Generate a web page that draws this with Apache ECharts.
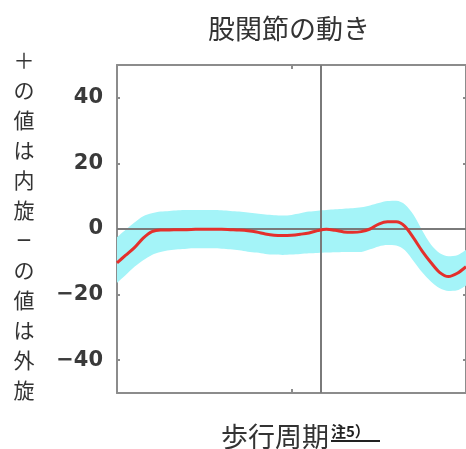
<!DOCTYPE html>
<html>
<head>
<meta charset="utf-8">
<script src="https://cdn.jsdelivr.net/npm/echarts@6/dist/echarts.min.js"></script>
<style>
  html, body { margin: 0; padding: 0; background: #fff; }
  #hip { width: 466px; height: 449px; }
</style>
</head>
<body>
<div id="hip"></div>
<script>
// gait cycle (%) and hip rotation angle (deg), read every 2.5 %
var cyclePct = [0, 2.5, 5, 7.5, 10, 12.5, 15, 17.5, 20, 22.5, 25, 27.5, 30, 32.5, 35, 37.5, 40, 42.5, 45, 47.5,
                50, 52.5, 55, 57.5, 60, 62.5, 65, 67.5, 70, 72.5, 75, 77.5, 80, 82.5, 85, 87.5, 90, 92.5, 95, 97.5, 100];
var meanDeg  = [-10.3, -8.0, -5.7, -2.8, -0.8, -0.3, -0.3, -0.2, -0.2, -0.1, -0.1, -0.1, -0.1, -0.2, -0.3, -0.5, -0.9, -1.5, -1.9, -2.0,
                -1.9, -1.6, -1.2, -0.5, -0.1, -0.4, -0.9, -1.0, -0.8, 0.0, 1.5, 2.2, 2.2, 0.8, -2.8, -6.8, -10.3, -13.3, -14.5, -13.5, -11.5];
var upperDeg = [-2.5, -0.2, 2.0, 3.9, 4.8, 5.3, 5.5, 5.7, 5.8, 5.8, 5.8, 5.8, 5.7, 5.5, 5.3, 5.0, 4.7, 4.4, 4.2, 4.1,
                4.3, 4.8, 5.3, 5.6, 5.8, 6.0, 6.2, 6.3, 6.6, 7.2, 7.9, 8.5, 8.6, 7.5, 4.3, -0.5, -4.8, -7.4, -8.3, -8.0, -6.3];
var lowerDeg = [-16.4, -14.0, -11.5, -9.5, -7.9, -7.0, -6.5, -6.2, -6.0, -5.9, -5.9, -5.9, -6.0, -6.2, -6.5, -6.9, -7.2, -7.6, -7.8, -7.9,
                -7.8, -7.6, -7.4, -7.3, -7.2, -7.1, -7.0, -7.0, -7.0, -6.2, -5.3, -4.9, -5.0, -6.5, -9.8, -13.3, -16.1, -18.1, -18.9, -18.7, -17.2];
var yTicks = [-40, -20, 0, 20, 40];
var toeOff = 58.3;
var sideLabel = ['＋', 'の', '値', 'は', '内', '旋', '−', 'の', '値', 'は', '外', '旋'];

var myChart = echarts.init(document.getElementById('hip'));

var bandHeight = upperDeg.map(function (u, i) { return u - lowerDeg[i]; });

var frameColor = '#8c8c8c';
var axisBase = {
  type: 'value', min: 0, max: 100, interval: 50,
  axisLine: { show: true, onZero: false, lineStyle: { color: frameColor, width: 2 } },
  axisTick: { show: true, inside: true, length: 4, customValues: [50], lineStyle: { color: frameColor, width: 2 } },
  axisLabel: { show: false },
  splitLine: { show: false }
};
var yBase = {
  type: 'value', min: -50, max: 50,
  axisLine: { show: true, onZero: false, lineStyle: { color: frameColor, width: 2 } },
  axisTick: { show: true, inside: true, length: 3, customValues: [-40, -20, 20, 40], lineStyle: { color: frameColor, width: 2 } },
  splitLine: { show: false }
};

var graphics = [
  { type: 'text', x: 289, y: 29,
    style: { text: '股関節の動き', font: '27px "Noto Sans CJK JP"', fill: '#333', textAlign: 'center', textVerticalAlign: 'middle' } },
  { type: 'text', x: 329, y: 437,
    style: { text: '歩行周期', font: '27px "Noto Sans CJK JP"', fill: '#333', textAlign: 'right', textVerticalAlign: 'middle' } },
  { type: 'text', x: 331, y: 431,
    style: { text: '注5）', font: 'bold 15px "Noto Sans CJK JP"', fill: '#222', textAlign: 'left', textVerticalAlign: 'middle' } },
  { type: 'line', shape: { x1: 331, y1: 441, x2: 380, y2: 441 }, style: { stroke: '#222', lineWidth: 2 } }
];
sideLabel.forEach(function (ch, i) {
  graphics.push({ type: 'text', x: 24, y: 60 + i * 30,
    style: { text: ch, font: (ch === '−' ? '26px' : '21px') + ' "Noto Sans CJK JP"', fill: '#333', textAlign: 'center', textVerticalAlign: 'middle' } });
});

var option = {
  animation: false,
  backgroundColor: '#fff',
  grid: { left: 117, right: -1, top: 65, bottom: 56 },
  xAxis: [
    Object.assign({ position: 'bottom' }, axisBase),
    Object.assign({ position: 'top' }, axisBase),
    {
      type: 'category', data: cyclePct, boundaryGap: false, position: 'bottom',
      axisLine: { show: false }, axisTick: { show: false }, axisLabel: { show: false }, splitLine: { show: false }
    }
  ],
  yAxis: [
    Object.assign({}, yBase, {
      position: 'left',
      axisLabel: {
        show: true, customValues: yTicks, margin: 14,
        fontFamily: 'DejaVu Sans', fontWeight: 'bold', fontSize: 21, color: '#3a3a3a',
        formatter: function (v) { return String(v).replace('-', '−'); }
      }
    }),
    Object.assign({}, yBase, { position: 'right', axisLabel: { show: false } })
  ],
  graphic: graphics,
  series: [
    {
      name: 'lower', type: 'line', xAxisIndex: 2, data: lowerDeg, stack: 'band', stackStrategy: 'all',
      smooth: 0.3, symbol: 'none', lineStyle: { opacity: 0 }, z: 1, silent: true
    },
    {
      name: 'band', type: 'line', xAxisIndex: 2, data: bandHeight, stack: 'band', stackStrategy: 'all',
      smooth: 0.3, symbol: 'none', lineStyle: { opacity: 0 },
      areaStyle: { color: '#a4f4f8', opacity: 1 }, z: 1, silent: true
    },
    {
      name: 'guides', type: 'line', xAxisIndex: 0, data: [], z: 3, silent: true,
      markLine: {
        silent: true, symbol: 'none', label: { show: false },
        lineStyle: { color: '#7a7a7a', width: 2, type: 'solid' },
        data: [{ yAxis: 0 }, { xAxis: toeOff }]
      }
    },
    {
      name: 'mean', type: 'line', xAxisIndex: 2, data: meanDeg, smooth: 0.3, symbol: 'none',
      lineStyle: { color: '#e4302c', width: 3 }, z: 5
    }
  ]
};
myChart.setOption(option);
</script>
</body>
</html>
